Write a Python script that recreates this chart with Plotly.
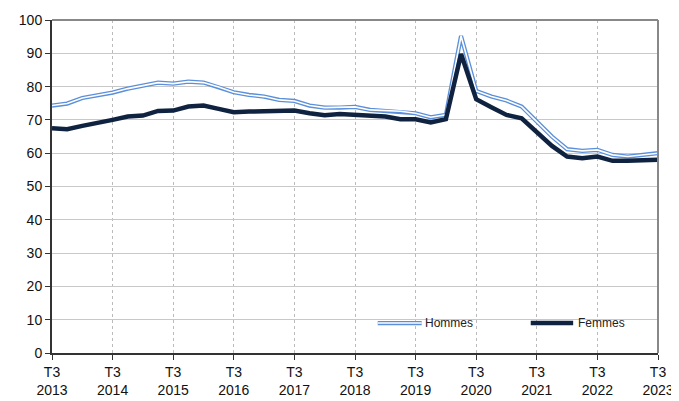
import plotly.graph_objects as go

years = list(range(2013, 2024))
tick_labels = [f"T3<br>{y}" for y in years]
quarters = list(range(41))

hommes = [74.3, 74.9, 76.6, 77.4, 78.2, 79.4, 80.2, 81.2, 80.9, 81.5,
          81.2, 79.9, 78.3, 77.5, 77.0, 76.0, 75.7, 74.3, 73.7, 73.7,
          73.9, 73.0, 72.7, 72.6, 72.0, 70.8, 71.5, 95.2, 78.7, 77.0,
          75.8, 74.0, 69.5, 65.0, 61.2, 60.7, 61.0, 59.5, 59.0, 59.5,
          60.0]
femmes = [67.5, 67.2, 68.2, 69.0, 70.0, 71.0, 71.3, 72.7, 72.8, 74.0,
          74.3, 73.3, 72.3, 72.5, 72.6, 72.4, 72.8, 72.0, 71.4, 71.8,
          71.5, 71.3, 71.0, 70.2, 70.2, 69.2, 70.2, 89.8, 76.2, 73.8,
          71.5, 70.5, 66.2, 62.2, 59.0, 58.5, 59.0, 57.7, 57.7, 57.8,
          58.0]

blue = "#5b8fd9"
navy = "#0f2341"
font = "Liberation Sans, Arial, sans-serif"

fig = go.Figure()
fig.add_trace(go.Scatter(x=quarters, y=hommes, mode="lines",
                         line=dict(color=blue, width=4.2), showlegend=False,
                         hoverinfo="skip"))
fig.add_trace(go.Scatter(x=quarters, y=hommes, mode="lines", name="Hommes",
                         line=dict(color="white", width=1.6), showlegend=False))
fig.add_trace(go.Scatter(x=quarters, y=femmes, mode="lines", name="Femmes",
                         line=dict(color=navy, width=4.5), showlegend=False))

# frame (top / right)
fig.add_shape(type="line", xref="paper", yref="paper", x0=0, x1=1, y0=1, y1=1,
              line=dict(color="#888888", width=2))
fig.add_shape(type="line", xref="paper", yref="paper", x0=1, x1=1, y0=0, y1=1,
              line=dict(color="#888888", width=2))

# manual legend
fig.add_shape(type="line", xref="x", yref="y", x0=21.5, x1=24.4, y0=9.0, y1=9.0,
              line=dict(color=blue, width=4.2))
fig.add_shape(type="line", xref="x", yref="y", x0=21.5, x1=24.4, y0=9.0, y1=9.0,
              line=dict(color="white", width=1.6))
fig.add_shape(type="line", xref="x", yref="y", x0=31.6, x1=34.4, y0=9.0, y1=9.0,
              line=dict(color=navy, width=4.5))
fig.add_annotation(x=24.5, y=9.0, xref="x", yref="y", text="Hommes", showarrow=False,
                   xanchor="left", yanchor="middle", font=dict(family=font, size=12, color="#222"))
fig.add_annotation(x=34.6, y=9.0, xref="x", yref="y", text="Femmes", showarrow=False,
                   xanchor="left", yanchor="middle", font=dict(family=font, size=12, color="#222"))

# page body has an 8px margin, so the figure is sized to fit the 679x401 window
fig.update_layout(
    width=671, height=393,
    margin=dict(l=44, r=21, t=12, b=48, autoexpand=False),
    paper_bgcolor="white", plot_bgcolor="white",
    font=dict(family=font, size=14, color="#111"),
    showlegend=False,
)
fig.update_xaxes(range=[0, 40], tickvals=list(range(0, 41, 4)), ticktext=tick_labels,
                 showgrid=True, gridcolor="#bbbbbb", griddash="dot", gridwidth=1,
                 showline=True, linecolor="#333333", linewidth=2,
                 ticks="outside", ticklen=5, tickcolor="#333333", zeroline=False,
                 tickfont=dict(size=14), automargin=False)
fig.update_yaxes(range=[0, 100], dtick=10, showgrid=True, gridcolor="#c8c8c8", gridwidth=1,
                 showline=True, linecolor="#333333", linewidth=2,
                 ticks="outside", ticklen=5, tickcolor="#333333", zeroline=False,
                 tickfont=dict(size=14), automargin=False)

fig.write_html("out.html")
